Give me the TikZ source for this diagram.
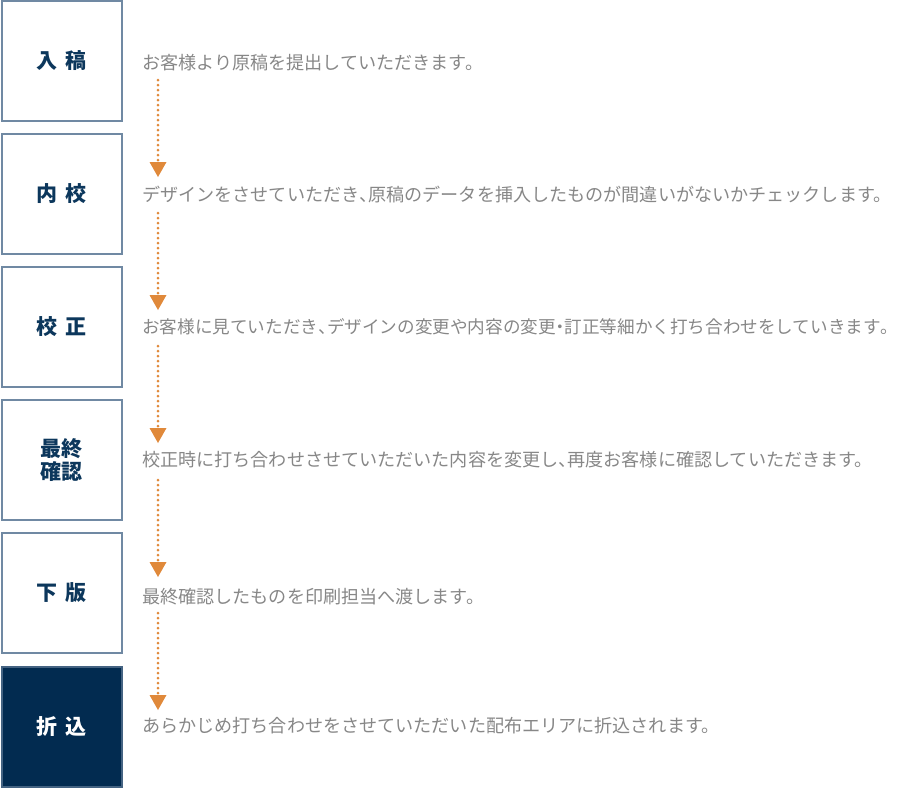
\documentclass[tikz,border=0pt]{standalone}
\usepackage{fontspec}
\setmainfont{Noto Sans CJK JP}
\usetikzlibrary{arrows.meta}
\definecolor{boxline}{HTML}{7089A3}
\definecolor{navy}{HTML}{0C375C}
\definecolor{darkfill}{HTML}{022B50}
\definecolor{orangeline}{HTML}{E0893A}
\definecolor{graytext}{HTML}{878787}
\newcommand\hcomma{\makebox[0.5em][l]{、}}
\newcommand\hperiod{\makebox[0.5em][l]{。}}
\newcommand\hdot{\makebox[0.5em][c]{・}}
\tikzset{
  stepbox/.style={draw=boxline, line width=2pt, fill=white, minimum width=120pt, minimum height=120pt, inner sep=0pt, text=navy, font=\fontsize{21}{24}\selectfont\bfseries, align=center},
  lastbox/.style={stepbox, draw=boxline!60!darkfill, fill=darkfill, text=white},
  desc/.style={anchor=west, inner sep=0pt, text=graytext, font=\fontsize{18.1}{20}\selectfont},
  flow/.style={draw=orangeline, line width=3pt, line cap=round, dash pattern=on 0pt off 5pt, -{Triangle[length=15pt,width=17pt,line width=0pt]}, orangeline}
}
\begin{document}
\begin{tikzpicture}[x=1pt,y=-1pt]
\useasboundingbox (0,0) rectangle (906,788);
\node[stepbox] (b1) at (61.5,61) {入\hspace{8pt}稿};
\node[stepbox] (b2) at (61.5,194) {内\hspace{8pt}校};
\node[stepbox] (b3) at (61.5,327) {校\hspace{8pt}正};
\node[stepbox, font=\fontsize{21}{23.5}\selectfont\bfseries] (b4) at (61.5,460) {最終\\確認};
\node[stepbox] (b5) at (61.5,593) {下\hspace{8pt}版};
\node[lastbox] (b6) at (61.5,726.5) {折\hspace{8pt}込};

\node[desc] (t1) at (142,63) {お客様より原稿を提出していただきます。};
\node[desc] (t2) at (142,195) {デザインをさせていただき\hcomma 原稿のデータを挿入したものが間違いがないかチェックします。};
\node[desc, font=\fontsize{17.6}{20}\selectfont] (t3) at (142,327) {お客様に見ていただき\hcomma デザインの変更や内容の変更\hdot 訂正等細かく打ち合わせをしていきます\hperiod};
\node[desc] (t4) at (142,460) {校正時に打ち合わせさせていただいた内容を変更し\hcomma 再度お客様に確認していただきます。};
\node[desc] (t5) at (142,597) {最終確認したものを印刷担当へ渡します。};
\node[desc] (t6) at (142,726) {あらかじめ打ち合わせをさせていただいた配布エリアに折込されます。};

\foreach \i/\a/\b in {1/80/177, 2/213/310, 3/346/443, 4/480/577, 5/613/710} {
  \coordinate (s\i) at (158,\a);
  \coordinate (e\i) at (158,\b);
  \draw[flow] (s\i) -- (e\i);
}
\end{tikzpicture}
\end{document}
